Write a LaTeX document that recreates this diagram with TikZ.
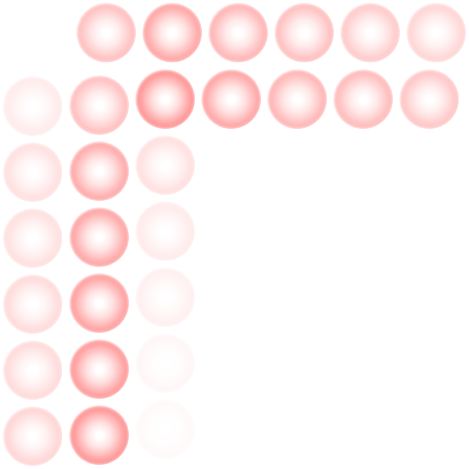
\documentclass[tikz,border=0pt]{standalone}
\usetikzlibrary{positioning}
\pgfdeclareradialshading{beadshade}{\pgfpointorigin}{%
  color(0bp)=(white); color(3bp)=(white); color(11bp)=(red!13);
  color(17bp)=(red!28); color(21bp)=(red!38); color(23bp)=(red!38);
  color(24.3bp)=(red!22); color(25.5bp)=(white); color(50bp)=(white)}
\begin{document}
\begin{tikzpicture}[
					%Environment config
					x=1pt,y=-1pt,
					%Environment styles
					Bead/.style={
						circle,
						inner sep=0pt,
						outer sep=0pt,
						minimum size=60pt,
						shade,
						shading=beadshade,
						fill opacity=#1
					}
					]
					\useasboundingbox (0,0) rectangle (469,469);
					%top row
					\foreach \i/\o in {1/0.6,2/0.85,3/0.7,4/0.6,5/0.5,6/0.4}
					\path (40+66*\i,32.5) node[Bead=\o](T\i){};
					%second row
					\foreach \i/\o in {2/1,3/0.85,4/0.7,5/0.65,6/0.55}
					\path (33+66*\i,99) node[Bead=\o](R\i){};
					%left columns
					\foreach \j/\o in {1/0.2,2/0.3,3/0.3,4/0.35,5/0.35,6/0.4}
					\path (32.5,40+66*\j) node[Bead=\o](A\j){};
					\foreach \j/\o in {1/0.6,2/0.8,3/0.85,4/0.9,5/0.95,6/1}
					\path (99,39+66*\j) node[Bead=\o](B\j){};
					\foreach \j/\o in {2/0.3,3/0.2,4/0.15,5/0.08,6/0.05}
					\path (165,33+66*\j) node[Bead=\o](C\j){};
				\end{tikzpicture}
\end{document}
